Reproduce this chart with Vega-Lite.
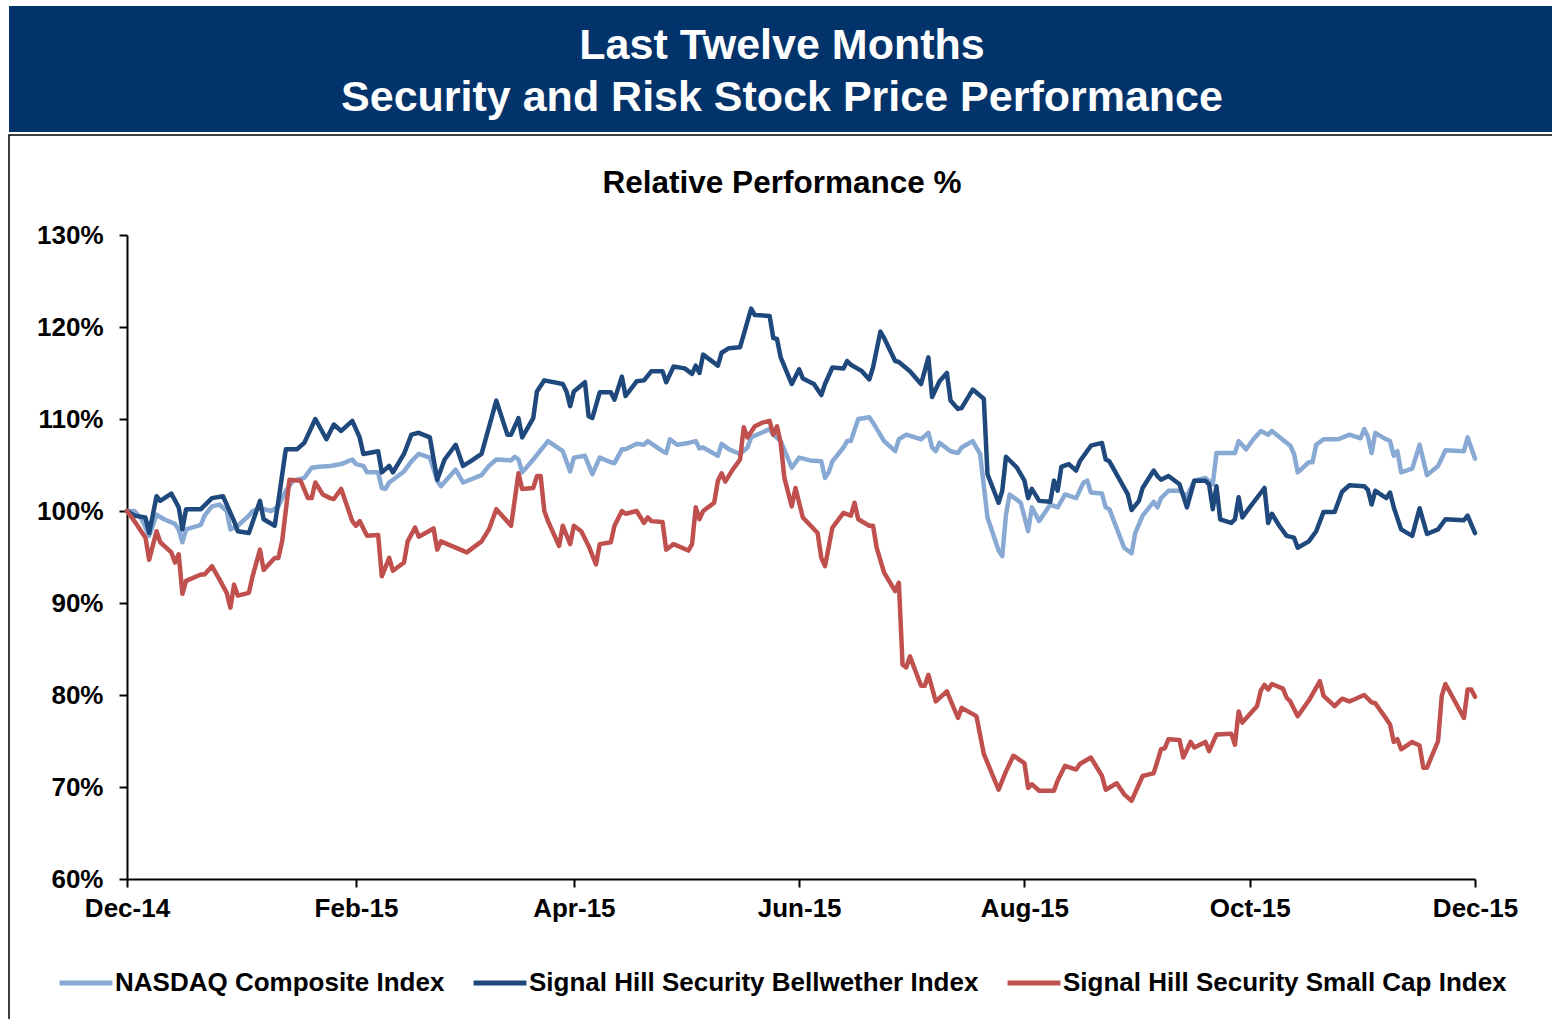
{
  "$schema": "https://vega.github.io/schema/vega-lite/v6.json",
  "padding": {"left": 8, "top": 6, "right": 0, "bottom": 0},
  "spacing": 2,
  "config": {"view": {"stroke": null}, "font": "Liberation Sans"},
  "vconcat": [
    {
      "width": 1546,
      "height": 126,
      "view": {"fill": "#02336A", "stroke": null},
      "data": {"values": [
        {"line": 1, "text": "Last Twelve Months"},
        {"line": 2, "text": "Security and Risk Stock Price Performance"}
      ]},
      "mark": {"type": "text", "font": "Liberation Sans", "fontSize": 43, "fontWeight": "bold", "color": "white", "baseline": "middle", "align": "center"},
      "encoding": {
        "y": {"field": "line", "type": "ordinal", "axis": null, "scale": {"type": "point", "range": [40, 92], "padding": 0}},
        "text": {"field": "text"}
      }
    },
    {
      "width": 1546,
      "height": 890,
      "view": {"stroke": "black", "strokeWidth": 1.5, "fill": "white"},
      "title": {"text": "Relative Performance %", "font": "Liberation Sans", "fontSize": 31.5, "fontWeight": "bold", "color": "black", "anchor": "middle", "offset": -64},
      "data": {
        "format": {"parse": {"date": "date:'%Y-%m-%d'"}},
        "values": [
{"series":"NASDAQ Composite Index","date":"2014-12-01","value":100},
{"series":"NASDAQ Composite Index","date":"2014-12-03","value":100},
{"series":"NASDAQ Composite Index","date":"2014-12-05","value":99.1},
{"series":"NASDAQ Composite Index","date":"2014-12-07","value":97.3},
{"series":"NASDAQ Composite Index","date":"2014-12-09","value":99.6},
{"series":"NASDAQ Composite Index","date":"2014-12-11","value":99.1},
{"series":"NASDAQ Composite Index","date":"2014-12-14","value":98.6},
{"series":"NASDAQ Composite Index","date":"2014-12-15","value":98.0},
{"series":"NASDAQ Composite Index","date":"2014-12-16","value":96.6},
{"series":"NASDAQ Composite Index","date":"2014-12-17","value":98.0},
{"series":"NASDAQ Composite Index","date":"2014-12-21","value":98.5},
{"series":"NASDAQ Composite Index","date":"2014-12-22","value":99.5},
{"series":"NASDAQ Composite Index","date":"2014-12-24","value":100.5},
{"series":"NASDAQ Composite Index","date":"2014-12-26","value":100.7},
{"series":"NASDAQ Composite Index","date":"2014-12-28","value":100.0},
{"series":"NASDAQ Composite Index","date":"2014-12-29","value":98.0},
{"series":"NASDAQ Composite Index","date":"2014-12-31","value":98.4},
{"series":"NASDAQ Composite Index","date":"2015-01-03","value":99.5},
{"series":"NASDAQ Composite Index","date":"2015-01-04","value":100.0},
{"series":"NASDAQ Composite Index","date":"2015-01-06","value":100.3},
{"series":"NASDAQ Composite Index","date":"2015-01-09","value":100.0},
{"series":"NASDAQ Composite Index","date":"2015-01-11","value":100.5},
{"series":"NASDAQ Composite Index","date":"2015-01-13","value":102.2},
{"series":"NASDAQ Composite Index","date":"2015-01-15","value":103.3},
{"series":"NASDAQ Composite Index","date":"2015-01-18","value":103.6},
{"series":"NASDAQ Composite Index","date":"2015-01-20","value":104.7},
{"series":"NASDAQ Composite Index","date":"2015-01-22","value":104.8},
{"series":"NASDAQ Composite Index","date":"2015-01-25","value":104.9},
{"series":"NASDAQ Composite Index","date":"2015-01-28","value":105.1},
{"series":"NASDAQ Composite Index","date":"2015-01-31","value":105.6},
{"series":"NASDAQ Composite Index","date":"2015-02-01","value":105.1},
{"series":"NASDAQ Composite Index","date":"2015-02-03","value":104.9},
{"series":"NASDAQ Composite Index","date":"2015-02-04","value":104.2},
{"series":"NASDAQ Composite Index","date":"2015-02-07","value":104.2},
{"series":"NASDAQ Composite Index","date":"2015-02-08","value":102.5},
{"series":"NASDAQ Composite Index","date":"2015-02-09","value":102.4},
{"series":"NASDAQ Composite Index","date":"2015-02-10","value":103.1},
{"series":"NASDAQ Composite Index","date":"2015-02-14","value":104.3},
{"series":"NASDAQ Composite Index","date":"2015-02-16","value":105.4},
{"series":"NASDAQ Composite Index","date":"2015-02-18","value":106.2},
{"series":"NASDAQ Composite Index","date":"2015-02-21","value":105.8},
{"series":"NASDAQ Composite Index","date":"2015-02-23","value":103.3},
{"series":"NASDAQ Composite Index","date":"2015-02-24","value":102.7},
{"series":"NASDAQ Composite Index","date":"2015-02-28","value":104.5},
{"series":"NASDAQ Composite Index","date":"2015-03-02","value":103.1},
{"series":"NASDAQ Composite Index","date":"2015-03-07","value":103.9},
{"series":"NASDAQ Composite Index","date":"2015-03-09","value":104.9},
{"series":"NASDAQ Composite Index","date":"2015-03-11","value":105.6},
{"series":"NASDAQ Composite Index","date":"2015-03-15","value":105.5},
{"series":"NASDAQ Composite Index","date":"2015-03-16","value":105.9},
{"series":"NASDAQ Composite Index","date":"2015-03-17","value":105.6},
{"series":"NASDAQ Composite Index","date":"2015-03-18","value":104.2},
{"series":"NASDAQ Composite Index","date":"2015-03-21","value":105.6},
{"series":"NASDAQ Composite Index","date":"2015-03-25","value":107.6},
{"series":"NASDAQ Composite Index","date":"2015-03-29","value":106.5},
{"series":"NASDAQ Composite Index","date":"2015-03-31","value":104.3},
{"series":"NASDAQ Composite Index","date":"2015-04-01","value":105.8},
{"series":"NASDAQ Composite Index","date":"2015-04-04","value":106.0},
{"series":"NASDAQ Composite Index","date":"2015-04-06","value":104.0},
{"series":"NASDAQ Composite Index","date":"2015-04-08","value":105.8},
{"series":"NASDAQ Composite Index","date":"2015-04-11","value":105.3},
{"series":"NASDAQ Composite Index","date":"2015-04-12","value":105.2},
{"series":"NASDAQ Composite Index","date":"2015-04-14","value":106.7},
{"series":"NASDAQ Composite Index","date":"2015-04-15","value":106.7},
{"series":"NASDAQ Composite Index","date":"2015-04-18","value":107.3},
{"series":"NASDAQ Composite Index","date":"2015-04-20","value":107.2},
{"series":"NASDAQ Composite Index","date":"2015-04-21","value":107.6},
{"series":"NASDAQ Composite Index","date":"2015-04-25","value":106.5},
{"series":"NASDAQ Composite Index","date":"2015-04-26","value":106.3},
{"series":"NASDAQ Composite Index","date":"2015-04-27","value":107.8},
{"series":"NASDAQ Composite Index","date":"2015-04-29","value":107.2},
{"series":"NASDAQ Composite Index","date":"2015-05-02","value":107.4},
{"series":"NASDAQ Composite Index","date":"2015-05-04","value":107.6},
{"series":"NASDAQ Composite Index","date":"2015-05-05","value":106.8},
{"series":"NASDAQ Composite Index","date":"2015-05-06","value":106.9},
{"series":"NASDAQ Composite Index","date":"2015-05-10","value":106.0},
{"series":"NASDAQ Composite Index","date":"2015-05-11","value":107.3},
{"series":"NASDAQ Composite Index","date":"2015-05-13","value":106.7},
{"series":"NASDAQ Composite Index","date":"2015-05-16","value":106.2},
{"series":"NASDAQ Composite Index","date":"2015-05-18","value":106.9},
{"series":"NASDAQ Composite Index","date":"2015-05-19","value":108.0},
{"series":"NASDAQ Composite Index","date":"2015-05-24","value":108.9},
{"series":"NASDAQ Composite Index","date":"2015-05-25","value":108.3},
{"series":"NASDAQ Composite Index","date":"2015-05-27","value":107.6},
{"series":"NASDAQ Composite Index","date":"2015-05-30","value":104.7},
{"series":"NASDAQ Composite Index","date":"2015-06-01","value":105.8},
{"series":"NASDAQ Composite Index","date":"2015-06-04","value":105.5},
{"series":"NASDAQ Composite Index","date":"2015-06-07","value":105.4},
{"series":"NASDAQ Composite Index","date":"2015-06-08","value":103.6},
{"series":"NASDAQ Composite Index","date":"2015-06-09","value":104.2},
{"series":"NASDAQ Composite Index","date":"2015-06-10","value":105.4},
{"series":"NASDAQ Composite Index","date":"2015-06-13","value":106.9},
{"series":"NASDAQ Composite Index","date":"2015-06-14","value":107.6},
{"series":"NASDAQ Composite Index","date":"2015-06-15","value":107.6},
{"series":"NASDAQ Composite Index","date":"2015-06-17","value":110.0},
{"series":"NASDAQ Composite Index","date":"2015-06-20","value":110.2},
{"series":"NASDAQ Composite Index","date":"2015-06-21","value":109.6},
{"series":"NASDAQ Composite Index","date":"2015-06-24","value":107.6},
{"series":"NASDAQ Composite Index","date":"2015-06-27","value":106.5},
{"series":"NASDAQ Composite Index","date":"2015-06-28","value":107.8},
{"series":"NASDAQ Composite Index","date":"2015-06-30","value":108.3},
{"series":"NASDAQ Composite Index","date":"2015-07-04","value":107.8},
{"series":"NASDAQ Composite Index","date":"2015-07-06","value":108.5},
{"series":"NASDAQ Composite Index","date":"2015-07-07","value":106.9},
{"series":"NASDAQ Composite Index","date":"2015-07-08","value":106.5},
{"series":"NASDAQ Composite Index","date":"2015-07-09","value":107.4},
{"series":"NASDAQ Composite Index","date":"2015-07-12","value":106.5},
{"series":"NASDAQ Composite Index","date":"2015-07-14","value":106.3},
{"series":"NASDAQ Composite Index","date":"2015-07-15","value":106.9},
{"series":"NASDAQ Composite Index","date":"2015-07-18","value":107.6},
{"series":"NASDAQ Composite Index","date":"2015-07-20","value":106.2},
{"series":"NASDAQ Composite Index","date":"2015-07-22","value":99.3},
{"series":"NASDAQ Composite Index","date":"2015-07-25","value":95.7},
{"series":"NASDAQ Composite Index","date":"2015-07-26","value":95.1},
{"series":"NASDAQ Composite Index","date":"2015-07-27","value":99.6},
{"series":"NASDAQ Composite Index","date":"2015-07-28","value":101.8},
{"series":"NASDAQ Composite Index","date":"2015-07-31","value":100.9},
{"series":"NASDAQ Composite Index","date":"2015-08-02","value":97.8},
{"series":"NASDAQ Composite Index","date":"2015-08-03","value":100.4},
{"series":"NASDAQ Composite Index","date":"2015-08-05","value":98.9},
{"series":"NASDAQ Composite Index","date":"2015-08-08","value":100.7},
{"series":"NASDAQ Composite Index","date":"2015-08-10","value":100.4},
{"series":"NASDAQ Composite Index","date":"2015-08-12","value":101.8},
{"series":"NASDAQ Composite Index","date":"2015-08-15","value":101.4},
{"series":"NASDAQ Composite Index","date":"2015-08-17","value":103.1},
{"series":"NASDAQ Composite Index","date":"2015-08-18","value":103.3},
{"series":"NASDAQ Composite Index","date":"2015-08-19","value":102.0},
{"series":"NASDAQ Composite Index","date":"2015-08-22","value":101.9},
{"series":"NASDAQ Composite Index","date":"2015-08-23","value":100.4},
{"series":"NASDAQ Composite Index","date":"2015-08-24","value":100.2},
{"series":"NASDAQ Composite Index","date":"2015-08-28","value":96.0},
{"series":"NASDAQ Composite Index","date":"2015-08-30","value":95.4},
{"series":"NASDAQ Composite Index","date":"2015-08-31","value":97.6},
{"series":"NASDAQ Composite Index","date":"2015-09-02","value":99.5},
{"series":"NASDAQ Composite Index","date":"2015-09-04","value":100.5},
{"series":"NASDAQ Composite Index","date":"2015-09-05","value":101.0},
{"series":"NASDAQ Composite Index","date":"2015-09-06","value":100.4},
{"series":"NASDAQ Composite Index","date":"2015-09-07","value":101.4},
{"series":"NASDAQ Composite Index","date":"2015-09-09","value":102.2},
{"series":"NASDAQ Composite Index","date":"2015-09-12","value":102.2},
{"series":"NASDAQ Composite Index","date":"2015-09-14","value":101.6},
{"series":"NASDAQ Composite Index","date":"2015-09-16","value":103.3},
{"series":"NASDAQ Composite Index","date":"2015-09-19","value":103.6},
{"series":"NASDAQ Composite Index","date":"2015-09-21","value":102.9},
{"series":"NASDAQ Composite Index","date":"2015-09-22","value":106.3},
{"series":"NASDAQ Composite Index","date":"2015-09-27","value":106.3},
{"series":"NASDAQ Composite Index","date":"2015-09-28","value":107.6},
{"series":"NASDAQ Composite Index","date":"2015-09-30","value":106.7},
{"series":"NASDAQ Composite Index","date":"2015-10-02","value":107.8},
{"series":"NASDAQ Composite Index","date":"2015-10-04","value":108.7},
{"series":"NASDAQ Composite Index","date":"2015-10-06","value":108.3},
{"series":"NASDAQ Composite Index","date":"2015-10-07","value":108.7},
{"series":"NASDAQ Composite Index","date":"2015-10-12","value":107.1},
{"series":"NASDAQ Composite Index","date":"2015-10-13","value":106.2},
{"series":"NASDAQ Composite Index","date":"2015-10-14","value":104.2},
{"series":"NASDAQ Composite Index","date":"2015-10-17","value":105.3},
{"series":"NASDAQ Composite Index","date":"2015-10-18","value":105.3},
{"series":"NASDAQ Composite Index","date":"2015-10-19","value":107.2},
{"series":"NASDAQ Composite Index","date":"2015-10-21","value":107.8},
{"series":"NASDAQ Composite Index","date":"2015-10-25","value":107.8},
{"series":"NASDAQ Composite Index","date":"2015-10-28","value":108.3},
{"series":"NASDAQ Composite Index","date":"2015-10-31","value":107.9},
{"series":"NASDAQ Composite Index","date":"2015-11-01","value":108.9},
{"series":"NASDAQ Composite Index","date":"2015-11-02","value":108.1},
{"series":"NASDAQ Composite Index","date":"2015-11-03","value":106.3},
{"series":"NASDAQ Composite Index","date":"2015-11-04","value":108.5},
{"series":"NASDAQ Composite Index","date":"2015-11-06","value":108.0},
{"series":"NASDAQ Composite Index","date":"2015-11-08","value":107.6},
{"series":"NASDAQ Composite Index","date":"2015-11-09","value":106.0},
{"series":"NASDAQ Composite Index","date":"2015-11-10","value":106.5},
{"series":"NASDAQ Composite Index","date":"2015-11-11","value":104.2},
{"series":"NASDAQ Composite Index","date":"2015-11-14","value":104.6},
{"series":"NASDAQ Composite Index","date":"2015-11-16","value":107.2},
{"series":"NASDAQ Composite Index","date":"2015-11-18","value":103.9},
{"series":"NASDAQ Composite Index","date":"2015-11-21","value":104.9},
{"series":"NASDAQ Composite Index","date":"2015-11-23","value":106.6},
{"series":"NASDAQ Composite Index","date":"2015-11-28","value":106.5},
{"series":"NASDAQ Composite Index","date":"2015-11-29","value":108.0},
{"series":"NASDAQ Composite Index","date":"2015-12-01","value":105.7},
{"series":"Signal Hill Security Bellwether Index","date":"2014-12-01","value":100},
{"series":"Signal Hill Security Bellwether Index","date":"2014-12-03","value":99.5},
{"series":"Signal Hill Security Bellwether Index","date":"2014-12-06","value":99.3},
{"series":"Signal Hill Security Bellwether Index","date":"2014-12-07","value":97.6},
{"series":"Signal Hill Security Bellwether Index","date":"2014-12-09","value":101.6},
{"series":"Signal Hill Security Bellwether Index","date":"2014-12-10","value":101.1},
{"series":"Signal Hill Security Bellwether Index","date":"2014-12-13","value":101.9},
{"series":"Signal Hill Security Bellwether Index","date":"2014-12-15","value":100.4},
{"series":"Signal Hill Security Bellwether Index","date":"2014-12-16","value":98.0},
{"series":"Signal Hill Security Bellwether Index","date":"2014-12-17","value":100.2},
{"series":"Signal Hill Security Bellwether Index","date":"2014-12-21","value":100.2},
{"series":"Signal Hill Security Bellwether Index","date":"2014-12-24","value":101.4},
{"series":"Signal Hill Security Bellwether Index","date":"2014-12-27","value":101.6},
{"series":"Signal Hill Security Bellwether Index","date":"2014-12-30","value":98.9},
{"series":"Signal Hill Security Bellwether Index","date":"2014-12-31","value":97.8},
{"series":"Signal Hill Security Bellwether Index","date":"2015-01-03","value":97.6},
{"series":"Signal Hill Security Bellwether Index","date":"2015-01-06","value":101.1},
{"series":"Signal Hill Security Bellwether Index","date":"2015-01-07","value":99.1},
{"series":"Signal Hill Security Bellwether Index","date":"2015-01-10","value":98.4},
{"series":"Signal Hill Security Bellwether Index","date":"2015-01-11","value":101.1},
{"series":"Signal Hill Security Bellwether Index","date":"2015-01-13","value":106.7},
{"series":"Signal Hill Security Bellwether Index","date":"2015-01-16","value":106.7},
{"series":"Signal Hill Security Bellwether Index","date":"2015-01-18","value":107.4},
{"series":"Signal Hill Security Bellwether Index","date":"2015-01-21","value":110.0},
{"series":"Signal Hill Security Bellwether Index","date":"2015-01-24","value":107.8},
{"series":"Signal Hill Security Bellwether Index","date":"2015-01-26","value":109.4},
{"series":"Signal Hill Security Bellwether Index","date":"2015-01-28","value":108.7},
{"series":"Signal Hill Security Bellwether Index","date":"2015-01-31","value":109.8},
{"series":"Signal Hill Security Bellwether Index","date":"2015-02-02","value":108.0},
{"series":"Signal Hill Security Bellwether Index","date":"2015-02-03","value":106.2},
{"series":"Signal Hill Security Bellwether Index","date":"2015-02-07","value":106.5},
{"series":"Signal Hill Security Bellwether Index","date":"2015-02-08","value":104.2},
{"series":"Signal Hill Security Bellwether Index","date":"2015-02-10","value":104.9},
{"series":"Signal Hill Security Bellwether Index","date":"2015-02-11","value":104.2},
{"series":"Signal Hill Security Bellwether Index","date":"2015-02-14","value":106.2},
{"series":"Signal Hill Security Bellwether Index","date":"2015-02-16","value":108.3},
{"series":"Signal Hill Security Bellwether Index","date":"2015-02-18","value":108.5},
{"series":"Signal Hill Security Bellwether Index","date":"2015-02-21","value":108.0},
{"series":"Signal Hill Security Bellwether Index","date":"2015-02-23","value":103.4},
{"series":"Signal Hill Security Bellwether Index","date":"2015-02-25","value":105.6},
{"series":"Signal Hill Security Bellwether Index","date":"2015-02-28","value":107.2},
{"series":"Signal Hill Security Bellwether Index","date":"2015-03-02","value":104.9},
{"series":"Signal Hill Security Bellwether Index","date":"2015-03-04","value":105.4},
{"series":"Signal Hill Security Bellwether Index","date":"2015-03-07","value":106.2},
{"series":"Signal Hill Security Bellwether Index","date":"2015-03-09","value":109.1},
{"series":"Signal Hill Security Bellwether Index","date":"2015-03-11","value":112.0},
{"series":"Signal Hill Security Bellwether Index","date":"2015-03-14","value":108.3},
{"series":"Signal Hill Security Bellwether Index","date":"2015-03-15","value":108.3},
{"series":"Signal Hill Security Bellwether Index","date":"2015-03-17","value":110.1},
{"series":"Signal Hill Security Bellwether Index","date":"2015-03-18","value":108.0},
{"series":"Signal Hill Security Bellwether Index","date":"2015-03-21","value":110.1},
{"series":"Signal Hill Security Bellwether Index","date":"2015-03-22","value":113.0},
{"series":"Signal Hill Security Bellwether Index","date":"2015-03-24","value":114.2},
{"series":"Signal Hill Security Bellwether Index","date":"2015-03-29","value":113.8},
{"series":"Signal Hill Security Bellwether Index","date":"2015-03-30","value":113.0},
{"series":"Signal Hill Security Bellwether Index","date":"2015-03-31","value":111.4},
{"series":"Signal Hill Security Bellwether Index","date":"2015-04-01","value":113.0},
{"series":"Signal Hill Security Bellwether Index","date":"2015-04-04","value":114.0},
{"series":"Signal Hill Security Bellwether Index","date":"2015-04-05","value":110.3},
{"series":"Signal Hill Security Bellwether Index","date":"2015-04-06","value":110.1},
{"series":"Signal Hill Security Bellwether Index","date":"2015-04-08","value":112.9},
{"series":"Signal Hill Security Bellwether Index","date":"2015-04-11","value":112.9},
{"series":"Signal Hill Security Bellwether Index","date":"2015-04-12","value":112.1},
{"series":"Signal Hill Security Bellwether Index","date":"2015-04-14","value":114.6},
{"series":"Signal Hill Security Bellwether Index","date":"2015-04-15","value":112.5},
{"series":"Signal Hill Security Bellwether Index","date":"2015-04-18","value":114.1},
{"series":"Signal Hill Security Bellwether Index","date":"2015-04-20","value":114.2},
{"series":"Signal Hill Security Bellwether Index","date":"2015-04-22","value":115.2},
{"series":"Signal Hill Security Bellwether Index","date":"2015-04-25","value":115.2},
{"series":"Signal Hill Security Bellwether Index","date":"2015-04-26","value":114.0},
{"series":"Signal Hill Security Bellwether Index","date":"2015-04-28","value":115.7},
{"series":"Signal Hill Security Bellwether Index","date":"2015-05-01","value":115.5},
{"series":"Signal Hill Security Bellwether Index","date":"2015-05-03","value":114.9},
{"series":"Signal Hill Security Bellwether Index","date":"2015-05-04","value":115.8},
{"series":"Signal Hill Security Bellwether Index","date":"2015-05-05","value":115.0},
{"series":"Signal Hill Security Bellwether Index","date":"2015-05-06","value":117.0},
{"series":"Signal Hill Security Bellwether Index","date":"2015-05-10","value":115.8},
{"series":"Signal Hill Security Bellwether Index","date":"2015-05-11","value":117.2},
{"series":"Signal Hill Security Bellwether Index","date":"2015-05-13","value":117.7},
{"series":"Signal Hill Security Bellwether Index","date":"2015-05-16","value":117.8},
{"series":"Signal Hill Security Bellwether Index","date":"2015-05-17","value":119.2},
{"series":"Signal Hill Security Bellwether Index","date":"2015-05-19","value":122.0},
{"series":"Signal Hill Security Bellwether Index","date":"2015-05-20","value":121.3},
{"series":"Signal Hill Security Bellwether Index","date":"2015-05-24","value":121.2},
{"series":"Signal Hill Security Bellwether Index","date":"2015-05-25","value":118.8},
{"series":"Signal Hill Security Bellwether Index","date":"2015-05-26","value":118.7},
{"series":"Signal Hill Security Bellwether Index","date":"2015-05-27","value":116.7},
{"series":"Signal Hill Security Bellwether Index","date":"2015-05-30","value":113.8},
{"series":"Signal Hill Security Bellwether Index","date":"2015-06-01","value":115.4},
{"series":"Signal Hill Security Bellwether Index","date":"2015-06-02","value":114.4},
{"series":"Signal Hill Security Bellwether Index","date":"2015-06-05","value":113.8},
{"series":"Signal Hill Security Bellwether Index","date":"2015-06-07","value":112.6},
{"series":"Signal Hill Security Bellwether Index","date":"2015-06-08","value":113.8},
{"series":"Signal Hill Security Bellwether Index","date":"2015-06-10","value":115.6},
{"series":"Signal Hill Security Bellwether Index","date":"2015-06-13","value":115.5},
{"series":"Signal Hill Security Bellwether Index","date":"2015-06-14","value":116.3},
{"series":"Signal Hill Security Bellwether Index","date":"2015-06-15","value":115.9},
{"series":"Signal Hill Security Bellwether Index","date":"2015-06-18","value":115.2},
{"series":"Signal Hill Security Bellwether Index","date":"2015-06-20","value":114.3},
{"series":"Signal Hill Security Bellwether Index","date":"2015-06-21","value":115.6},
{"series":"Signal Hill Security Bellwether Index","date":"2015-06-23","value":119.5},
{"series":"Signal Hill Security Bellwether Index","date":"2015-06-24","value":118.8},
{"series":"Signal Hill Security Bellwether Index","date":"2015-06-27","value":116.3},
{"series":"Signal Hill Security Bellwether Index","date":"2015-06-28","value":116.2},
{"series":"Signal Hill Security Bellwether Index","date":"2015-07-01","value":115.2},
{"series":"Signal Hill Security Bellwether Index","date":"2015-07-04","value":113.8},
{"series":"Signal Hill Security Bellwether Index","date":"2015-07-06","value":116.7},
{"series":"Signal Hill Security Bellwether Index","date":"2015-07-07","value":112.4},
{"series":"Signal Hill Security Bellwether Index","date":"2015-07-09","value":114.1},
{"series":"Signal Hill Security Bellwether Index","date":"2015-07-11","value":115.0},
{"series":"Signal Hill Security Bellwether Index","date":"2015-07-12","value":112.0},
{"series":"Signal Hill Security Bellwether Index","date":"2015-07-14","value":111.1},
{"series":"Signal Hill Security Bellwether Index","date":"2015-07-15","value":111.2},
{"series":"Signal Hill Security Bellwether Index","date":"2015-07-18","value":113.2},
{"series":"Signal Hill Security Bellwether Index","date":"2015-07-21","value":112.2},
{"series":"Signal Hill Security Bellwether Index","date":"2015-07-22","value":104.0},
{"series":"Signal Hill Security Bellwether Index","date":"2015-07-25","value":100.9},
{"series":"Signal Hill Security Bellwether Index","date":"2015-07-26","value":102.2},
{"series":"Signal Hill Security Bellwether Index","date":"2015-07-27","value":105.9},
{"series":"Signal Hill Security Bellwether Index","date":"2015-07-30","value":104.7},
{"series":"Signal Hill Security Bellwether Index","date":"2015-08-01","value":103.3},
{"series":"Signal Hill Security Bellwether Index","date":"2015-08-02","value":101.4},
{"series":"Signal Hill Security Bellwether Index","date":"2015-08-03","value":102.4},
{"series":"Signal Hill Security Bellwether Index","date":"2015-08-05","value":101.1},
{"series":"Signal Hill Security Bellwether Index","date":"2015-08-08","value":101.0},
{"series":"Signal Hill Security Bellwether Index","date":"2015-08-09","value":103.3},
{"series":"Signal Hill Security Bellwether Index","date":"2015-08-10","value":102.2},
{"series":"Signal Hill Security Bellwether Index","date":"2015-08-11","value":104.8},
{"series":"Signal Hill Security Bellwether Index","date":"2015-08-13","value":105.1},
{"series":"Signal Hill Security Bellwether Index","date":"2015-08-15","value":104.4},
{"series":"Signal Hill Security Bellwether Index","date":"2015-08-16","value":105.4},
{"series":"Signal Hill Security Bellwether Index","date":"2015-08-19","value":107.1},
{"series":"Signal Hill Security Bellwether Index","date":"2015-08-22","value":107.4},
{"series":"Signal Hill Security Bellwether Index","date":"2015-08-23","value":105.6},
{"series":"Signal Hill Security Bellwether Index","date":"2015-08-24","value":105.4},
{"series":"Signal Hill Security Bellwether Index","date":"2015-08-29","value":101.8},
{"series":"Signal Hill Security Bellwether Index","date":"2015-08-30","value":100.1},
{"series":"Signal Hill Security Bellwether Index","date":"2015-09-01","value":101.1},
{"series":"Signal Hill Security Bellwether Index","date":"2015-09-02","value":102.5},
{"series":"Signal Hill Security Bellwether Index","date":"2015-09-05","value":104.4},
{"series":"Signal Hill Security Bellwether Index","date":"2015-09-06","value":103.8},
{"series":"Signal Hill Security Bellwether Index","date":"2015-09-07","value":103.4},
{"series":"Signal Hill Security Bellwether Index","date":"2015-09-09","value":103.8},
{"series":"Signal Hill Security Bellwether Index","date":"2015-09-12","value":102.9},
{"series":"Signal Hill Security Bellwether Index","date":"2015-09-14","value":100.4},
{"series":"Signal Hill Security Bellwether Index","date":"2015-09-16","value":103.3},
{"series":"Signal Hill Security Bellwether Index","date":"2015-09-19","value":103.3},
{"series":"Signal Hill Security Bellwether Index","date":"2015-09-20","value":102.9},
{"series":"Signal Hill Security Bellwether Index","date":"2015-09-21","value":100.2},
{"series":"Signal Hill Security Bellwether Index","date":"2015-09-22","value":102.7},
{"series":"Signal Hill Security Bellwether Index","date":"2015-09-23","value":99.1},
{"series":"Signal Hill Security Bellwether Index","date":"2015-09-26","value":98.7},
{"series":"Signal Hill Security Bellwether Index","date":"2015-09-27","value":99.1},
{"series":"Signal Hill Security Bellwether Index","date":"2015-09-28","value":101.5},
{"series":"Signal Hill Security Bellwether Index","date":"2015-09-29","value":99.3},
{"series":"Signal Hill Security Bellwether Index","date":"2015-10-01","value":100.4},
{"series":"Signal Hill Security Bellwether Index","date":"2015-10-05","value":102.5},
{"series":"Signal Hill Security Bellwether Index","date":"2015-10-06","value":98.7},
{"series":"Signal Hill Security Bellwether Index","date":"2015-10-07","value":99.7},
{"series":"Signal Hill Security Bellwether Index","date":"2015-10-09","value":98.4},
{"series":"Signal Hill Security Bellwether Index","date":"2015-10-11","value":97.3},
{"series":"Signal Hill Security Bellwether Index","date":"2015-10-13","value":97.1},
{"series":"Signal Hill Security Bellwether Index","date":"2015-10-14","value":96.0},
{"series":"Signal Hill Security Bellwether Index","date":"2015-10-17","value":96.7},
{"series":"Signal Hill Security Bellwether Index","date":"2015-10-19","value":97.8},
{"series":"Signal Hill Security Bellwether Index","date":"2015-10-21","value":99.9},
{"series":"Signal Hill Security Bellwether Index","date":"2015-10-24","value":99.9},
{"series":"Signal Hill Security Bellwether Index","date":"2015-10-26","value":102.1},
{"series":"Signal Hill Security Bellwether Index","date":"2015-10-28","value":102.8},
{"series":"Signal Hill Security Bellwether Index","date":"2015-11-01","value":102.7},
{"series":"Signal Hill Security Bellwether Index","date":"2015-11-02","value":102.3},
{"series":"Signal Hill Security Bellwether Index","date":"2015-11-03","value":100.7},
{"series":"Signal Hill Security Bellwether Index","date":"2015-11-04","value":102.2},
{"series":"Signal Hill Security Bellwether Index","date":"2015-11-07","value":101.4},
{"series":"Signal Hill Security Bellwether Index","date":"2015-11-08","value":102.0},
{"series":"Signal Hill Security Bellwether Index","date":"2015-11-09","value":100.4},
{"series":"Signal Hill Security Bellwether Index","date":"2015-11-11","value":98.0},
{"series":"Signal Hill Security Bellwether Index","date":"2015-11-14","value":97.3},
{"series":"Signal Hill Security Bellwether Index","date":"2015-11-16","value":100.3},
{"series":"Signal Hill Security Bellwether Index","date":"2015-11-18","value":97.5},
{"series":"Signal Hill Security Bellwether Index","date":"2015-11-21","value":98.0},
{"series":"Signal Hill Security Bellwether Index","date":"2015-11-23","value":99.1},
{"series":"Signal Hill Security Bellwether Index","date":"2015-11-28","value":99.0},
{"series":"Signal Hill Security Bellwether Index","date":"2015-11-29","value":99.5},
{"series":"Signal Hill Security Bellwether Index","date":"2015-12-01","value":97.6},
{"series":"Signal Hill Security Small Cap Index","date":"2014-12-01","value":100},
{"series":"Signal Hill Security Small Cap Index","date":"2014-12-03","value":98.9},
{"series":"Signal Hill Security Small Cap Index","date":"2014-12-06","value":97.1},
{"series":"Signal Hill Security Small Cap Index","date":"2014-12-07","value":94.7},
{"series":"Signal Hill Security Small Cap Index","date":"2014-12-09","value":97.8},
{"series":"Signal Hill Security Small Cap Index","date":"2014-12-10","value":96.6},
{"series":"Signal Hill Security Small Cap Index","date":"2014-12-13","value":95.5},
{"series":"Signal Hill Security Small Cap Index","date":"2014-12-14","value":94.4},
{"series":"Signal Hill Security Small Cap Index","date":"2014-12-15","value":95.3},
{"series":"Signal Hill Security Small Cap Index","date":"2014-12-16","value":91.0},
{"series":"Signal Hill Security Small Cap Index","date":"2014-12-17","value":92.4},
{"series":"Signal Hill Security Small Cap Index","date":"2014-12-21","value":93.1},
{"series":"Signal Hill Security Small Cap Index","date":"2014-12-22","value":93.1},
{"series":"Signal Hill Security Small Cap Index","date":"2014-12-24","value":94.0},
{"series":"Signal Hill Security Small Cap Index","date":"2014-12-26","value":92.6},
{"series":"Signal Hill Security Small Cap Index","date":"2014-12-28","value":91.1},
{"series":"Signal Hill Security Small Cap Index","date":"2014-12-29","value":89.5},
{"series":"Signal Hill Security Small Cap Index","date":"2014-12-30","value":92.0},
{"series":"Signal Hill Security Small Cap Index","date":"2014-12-31","value":90.8},
{"series":"Signal Hill Security Small Cap Index","date":"2015-01-03","value":91.1},
{"series":"Signal Hill Security Small Cap Index","date":"2015-01-04","value":92.9},
{"series":"Signal Hill Security Small Cap Index","date":"2015-01-06","value":95.8},
{"series":"Signal Hill Security Small Cap Index","date":"2015-01-07","value":93.6},
{"series":"Signal Hill Security Small Cap Index","date":"2015-01-10","value":94.9},
{"series":"Signal Hill Security Small Cap Index","date":"2015-01-11","value":94.9},
{"series":"Signal Hill Security Small Cap Index","date":"2015-01-12","value":96.7},
{"series":"Signal Hill Security Small Cap Index","date":"2015-01-14","value":103.4},
{"series":"Signal Hill Security Small Cap Index","date":"2015-01-17","value":103.3},
{"series":"Signal Hill Security Small Cap Index","date":"2015-01-19","value":101.4},
{"series":"Signal Hill Security Small Cap Index","date":"2015-01-20","value":101.4},
{"series":"Signal Hill Security Small Cap Index","date":"2015-01-21","value":103.1},
{"series":"Signal Hill Security Small Cap Index","date":"2015-01-23","value":101.8},
{"series":"Signal Hill Security Small Cap Index","date":"2015-01-25","value":101.4},
{"series":"Signal Hill Security Small Cap Index","date":"2015-01-26","value":101.3},
{"series":"Signal Hill Security Small Cap Index","date":"2015-01-28","value":102.4},
{"series":"Signal Hill Security Small Cap Index","date":"2015-01-31","value":98.9},
{"series":"Signal Hill Security Small Cap Index","date":"2015-02-01","value":98.4},
{"series":"Signal Hill Security Small Cap Index","date":"2015-02-02","value":98.9},
{"series":"Signal Hill Security Small Cap Index","date":"2015-02-04","value":97.3},
{"series":"Signal Hill Security Small Cap Index","date":"2015-02-07","value":97.4},
{"series":"Signal Hill Security Small Cap Index","date":"2015-02-08","value":92.9},
{"series":"Signal Hill Security Small Cap Index","date":"2015-02-10","value":94.9},
{"series":"Signal Hill Security Small Cap Index","date":"2015-02-11","value":93.5},
{"series":"Signal Hill Security Small Cap Index","date":"2015-02-14","value":94.4},
{"series":"Signal Hill Security Small Cap Index","date":"2015-02-15","value":96.7},
{"series":"Signal Hill Security Small Cap Index","date":"2015-02-17","value":98.2},
{"series":"Signal Hill Security Small Cap Index","date":"2015-02-18","value":97.2},
{"series":"Signal Hill Security Small Cap Index","date":"2015-02-22","value":98.1},
{"series":"Signal Hill Security Small Cap Index","date":"2015-02-23","value":95.8},
{"series":"Signal Hill Security Small Cap Index","date":"2015-02-24","value":96.7},
{"series":"Signal Hill Security Small Cap Index","date":"2015-03-03","value":95.5},
{"series":"Signal Hill Security Small Cap Index","date":"2015-03-07","value":96.7},
{"series":"Signal Hill Security Small Cap Index","date":"2015-03-09","value":98.0},
{"series":"Signal Hill Security Small Cap Index","date":"2015-03-11","value":100.2},
{"series":"Signal Hill Security Small Cap Index","date":"2015-03-15","value":98.4},
{"series":"Signal Hill Security Small Cap Index","date":"2015-03-17","value":104.1},
{"series":"Signal Hill Security Small Cap Index","date":"2015-03-18","value":102.4},
{"series":"Signal Hill Security Small Cap Index","date":"2015-03-21","value":102.5},
{"series":"Signal Hill Security Small Cap Index","date":"2015-03-22","value":103.8},
{"series":"Signal Hill Security Small Cap Index","date":"2015-03-23","value":103.8},
{"series":"Signal Hill Security Small Cap Index","date":"2015-03-24","value":100.0},
{"series":"Signal Hill Security Small Cap Index","date":"2015-03-25","value":98.9},
{"series":"Signal Hill Security Small Cap Index","date":"2015-03-28","value":96.2},
{"series":"Signal Hill Security Small Cap Index","date":"2015-03-29","value":98.4},
{"series":"Signal Hill Security Small Cap Index","date":"2015-03-31","value":96.4},
{"series":"Signal Hill Security Small Cap Index","date":"2015-04-01","value":98.4},
{"series":"Signal Hill Security Small Cap Index","date":"2015-04-03","value":97.8},
{"series":"Signal Hill Security Small Cap Index","date":"2015-04-05","value":96.2},
{"series":"Signal Hill Security Small Cap Index","date":"2015-04-07","value":94.2},
{"series":"Signal Hill Security Small Cap Index","date":"2015-04-08","value":96.4},
{"series":"Signal Hill Security Small Cap Index","date":"2015-04-11","value":96.6},
{"series":"Signal Hill Security Small Cap Index","date":"2015-04-12","value":98.4},
{"series":"Signal Hill Security Small Cap Index","date":"2015-04-14","value":100.0},
{"series":"Signal Hill Security Small Cap Index","date":"2015-04-15","value":99.7},
{"series":"Signal Hill Security Small Cap Index","date":"2015-04-18","value":100.0},
{"series":"Signal Hill Security Small Cap Index","date":"2015-04-20","value":98.7},
{"series":"Signal Hill Security Small Cap Index","date":"2015-04-21","value":99.3},
{"series":"Signal Hill Security Small Cap Index","date":"2015-04-22","value":98.9},
{"series":"Signal Hill Security Small Cap Index","date":"2015-04-25","value":98.8},
{"series":"Signal Hill Security Small Cap Index","date":"2015-04-26","value":95.8},
{"series":"Signal Hill Security Small Cap Index","date":"2015-04-28","value":96.4},
{"series":"Signal Hill Security Small Cap Index","date":"2015-05-02","value":95.7},
{"series":"Signal Hill Security Small Cap Index","date":"2015-05-03","value":96.4},
{"series":"Signal Hill Security Small Cap Index","date":"2015-05-04","value":100.4},
{"series":"Signal Hill Security Small Cap Index","date":"2015-05-05","value":99.1},
{"series":"Signal Hill Security Small Cap Index","date":"2015-05-06","value":100.0},
{"series":"Signal Hill Security Small Cap Index","date":"2015-05-09","value":100.9},
{"series":"Signal Hill Security Small Cap Index","date":"2015-05-10","value":103.3},
{"series":"Signal Hill Security Small Cap Index","date":"2015-05-11","value":104.1},
{"series":"Signal Hill Security Small Cap Index","date":"2015-05-12","value":103.2},
{"series":"Signal Hill Security Small Cap Index","date":"2015-05-14","value":104.5},
{"series":"Signal Hill Security Small Cap Index","date":"2015-05-16","value":105.6},
{"series":"Signal Hill Security Small Cap Index","date":"2015-05-17","value":109.1},
{"series":"Signal Hill Security Small Cap Index","date":"2015-05-18","value":108.0},
{"series":"Signal Hill Security Small Cap Index","date":"2015-05-20","value":109.2},
{"series":"Signal Hill Security Small Cap Index","date":"2015-05-22","value":109.6},
{"series":"Signal Hill Security Small Cap Index","date":"2015-05-24","value":109.8},
{"series":"Signal Hill Security Small Cap Index","date":"2015-05-25","value":108.3},
{"series":"Signal Hill Security Small Cap Index","date":"2015-05-26","value":109.2},
{"series":"Signal Hill Security Small Cap Index","date":"2015-05-27","value":107.4},
{"series":"Signal Hill Security Small Cap Index","date":"2015-05-28","value":103.6},
{"series":"Signal Hill Security Small Cap Index","date":"2015-05-30","value":100.5},
{"series":"Signal Hill Security Small Cap Index","date":"2015-05-31","value":102.5},
{"series":"Signal Hill Security Small Cap Index","date":"2015-06-02","value":99.3},
{"series":"Signal Hill Security Small Cap Index","date":"2015-06-06","value":97.6},
{"series":"Signal Hill Security Small Cap Index","date":"2015-06-07","value":94.9},
{"series":"Signal Hill Security Small Cap Index","date":"2015-06-08","value":94.0},
{"series":"Signal Hill Security Small Cap Index","date":"2015-06-10","value":98.2},
{"series":"Signal Hill Security Small Cap Index","date":"2015-06-13","value":99.8},
{"series":"Signal Hill Security Small Cap Index","date":"2015-06-15","value":99.5},
{"series":"Signal Hill Security Small Cap Index","date":"2015-06-16","value":100.9},
{"series":"Signal Hill Security Small Cap Index","date":"2015-06-17","value":99.1},
{"series":"Signal Hill Security Small Cap Index","date":"2015-06-20","value":98.4},
{"series":"Signal Hill Security Small Cap Index","date":"2015-06-21","value":98.4},
{"series":"Signal Hill Security Small Cap Index","date":"2015-06-22","value":96.0},
{"series":"Signal Hill Security Small Cap Index","date":"2015-06-24","value":93.3},
{"series":"Signal Hill Security Small Cap Index","date":"2015-06-27","value":91.3},
{"series":"Signal Hill Security Small Cap Index","date":"2015-06-28","value":92.2},
{"series":"Signal Hill Security Small Cap Index","date":"2015-06-29","value":83.3},
{"series":"Signal Hill Security Small Cap Index","date":"2015-06-30","value":83.0},
{"series":"Signal Hill Security Small Cap Index","date":"2015-07-01","value":84.2},
{"series":"Signal Hill Security Small Cap Index","date":"2015-07-04","value":81.0},
{"series":"Signal Hill Security Small Cap Index","date":"2015-07-05","value":81.0},
{"series":"Signal Hill Security Small Cap Index","date":"2015-07-06","value":82.2},
{"series":"Signal Hill Security Small Cap Index","date":"2015-07-08","value":79.3},
{"series":"Signal Hill Security Small Cap Index","date":"2015-07-11","value":80.4},
{"series":"Signal Hill Security Small Cap Index","date":"2015-07-14","value":77.5},
{"series":"Signal Hill Security Small Cap Index","date":"2015-07-15","value":78.6},
{"series":"Signal Hill Security Small Cap Index","date":"2015-07-19","value":77.7},
{"series":"Signal Hill Security Small Cap Index","date":"2015-07-21","value":73.6},
{"series":"Signal Hill Security Small Cap Index","date":"2015-07-25","value":69.7},
{"series":"Signal Hill Security Small Cap Index","date":"2015-07-27","value":71.7},
{"series":"Signal Hill Security Small Cap Index","date":"2015-07-29","value":73.4},
{"series":"Signal Hill Security Small Cap Index","date":"2015-08-01","value":72.6},
{"series":"Signal Hill Security Small Cap Index","date":"2015-08-02","value":69.9},
{"series":"Signal Hill Security Small Cap Index","date":"2015-08-03","value":70.3},
{"series":"Signal Hill Security Small Cap Index","date":"2015-08-05","value":69.6},
{"series":"Signal Hill Security Small Cap Index","date":"2015-08-09","value":69.6},
{"series":"Signal Hill Security Small Cap Index","date":"2015-08-10","value":70.7},
{"series":"Signal Hill Security Small Cap Index","date":"2015-08-12","value":72.3},
{"series":"Signal Hill Security Small Cap Index","date":"2015-08-15","value":71.9},
{"series":"Signal Hill Security Small Cap Index","date":"2015-08-16","value":72.5},
{"series":"Signal Hill Security Small Cap Index","date":"2015-08-19","value":73.2},
{"series":"Signal Hill Security Small Cap Index","date":"2015-08-22","value":71.2},
{"series":"Signal Hill Security Small Cap Index","date":"2015-08-23","value":69.7},
{"series":"Signal Hill Security Small Cap Index","date":"2015-08-26","value":70.4},
{"series":"Signal Hill Security Small Cap Index","date":"2015-08-28","value":69.2},
{"series":"Signal Hill Security Small Cap Index","date":"2015-08-30","value":68.5},
{"series":"Signal Hill Security Small Cap Index","date":"2015-08-31","value":69.4},
{"series":"Signal Hill Security Small Cap Index","date":"2015-09-02","value":71.2},
{"series":"Signal Hill Security Small Cap Index","date":"2015-09-04","value":71.4},
{"series":"Signal Hill Security Small Cap Index","date":"2015-09-05","value":71.5},
{"series":"Signal Hill Security Small Cap Index","date":"2015-09-07","value":74.1},
{"series":"Signal Hill Security Small Cap Index","date":"2015-09-08","value":74.2},
{"series":"Signal Hill Security Small Cap Index","date":"2015-09-09","value":75.2},
{"series":"Signal Hill Security Small Cap Index","date":"2015-09-12","value":75.1},
{"series":"Signal Hill Security Small Cap Index","date":"2015-09-13","value":73.2},
{"series":"Signal Hill Security Small Cap Index","date":"2015-09-15","value":74.9},
{"series":"Signal Hill Security Small Cap Index","date":"2015-09-16","value":74.3},
{"series":"Signal Hill Security Small Cap Index","date":"2015-09-19","value":74.9},
{"series":"Signal Hill Security Small Cap Index","date":"2015-09-20","value":73.9},
{"series":"Signal Hill Security Small Cap Index","date":"2015-09-22","value":75.7},
{"series":"Signal Hill Security Small Cap Index","date":"2015-09-26","value":75.8},
{"series":"Signal Hill Security Small Cap Index","date":"2015-09-27","value":74.6},
{"series":"Signal Hill Security Small Cap Index","date":"2015-09-28","value":78.2},
{"series":"Signal Hill Security Small Cap Index","date":"2015-09-29","value":77.0},
{"series":"Signal Hill Security Small Cap Index","date":"2015-10-03","value":78.8},
{"series":"Signal Hill Security Small Cap Index","date":"2015-10-04","value":80.5},
{"series":"Signal Hill Security Small Cap Index","date":"2015-10-05","value":81.1},
{"series":"Signal Hill Security Small Cap Index","date":"2015-10-06","value":80.6},
{"series":"Signal Hill Security Small Cap Index","date":"2015-10-07","value":81.2},
{"series":"Signal Hill Security Small Cap Index","date":"2015-10-10","value":80.7},
{"series":"Signal Hill Security Small Cap Index","date":"2015-10-11","value":79.7},
{"series":"Signal Hill Security Small Cap Index","date":"2015-10-12","value":79.3},
{"series":"Signal Hill Security Small Cap Index","date":"2015-10-14","value":77.7},
{"series":"Signal Hill Security Small Cap Index","date":"2015-10-17","value":79.4},
{"series":"Signal Hill Security Small Cap Index","date":"2015-10-18","value":80.1},
{"series":"Signal Hill Security Small Cap Index","date":"2015-10-20","value":81.5},
{"series":"Signal Hill Security Small Cap Index","date":"2015-10-21","value":79.9},
{"series":"Signal Hill Security Small Cap Index","date":"2015-10-24","value":78.8},
{"series":"Signal Hill Security Small Cap Index","date":"2015-10-26","value":79.6},
{"series":"Signal Hill Security Small Cap Index","date":"2015-10-28","value":79.3},
{"series":"Signal Hill Security Small Cap Index","date":"2015-11-01","value":80.0},
{"series":"Signal Hill Security Small Cap Index","date":"2015-11-03","value":79.2},
{"series":"Signal Hill Security Small Cap Index","date":"2015-11-04","value":79.1},
{"series":"Signal Hill Security Small Cap Index","date":"2015-11-07","value":77.4},
{"series":"Signal Hill Security Small Cap Index","date":"2015-11-08","value":76.8},
{"series":"Signal Hill Security Small Cap Index","date":"2015-11-09","value":74.9},
{"series":"Signal Hill Security Small Cap Index","date":"2015-11-10","value":75.2},
{"series":"Signal Hill Security Small Cap Index","date":"2015-11-11","value":74.1},
{"series":"Signal Hill Security Small Cap Index","date":"2015-11-14","value":74.9},
{"series":"Signal Hill Security Small Cap Index","date":"2015-11-16","value":74.5},
{"series":"Signal Hill Security Small Cap Index","date":"2015-11-17","value":72.1},
{"series":"Signal Hill Security Small Cap Index","date":"2015-11-18","value":72.1},
{"series":"Signal Hill Security Small Cap Index","date":"2015-11-21","value":75.0},
{"series":"Signal Hill Security Small Cap Index","date":"2015-11-22","value":79.9},
{"series":"Signal Hill Security Small Cap Index","date":"2015-11-23","value":81.2},
{"series":"Signal Hill Security Small Cap Index","date":"2015-11-28","value":77.5},
{"series":"Signal Hill Security Small Cap Index","date":"2015-11-29","value":80.6},
{"series":"Signal Hill Security Small Cap Index","date":"2015-11-30","value":80.6},
{"series":"Signal Hill Security Small Cap Index","date":"2015-12-01","value":79.8}
        ]
      },
      "mark": {"type": "line", "strokeWidth": 4.5, "strokeJoin": "round", "strokeCap": "round"},
      "encoding": {
        "x": {
          "field": "date", "type": "temporal",
          "scale": {"domain": [{"year": 2014, "month": 12, "date": 1}, {"year": 2015, "month": 12, "date": 1}], "range": [118, 1466], "nice": false},
          "axis": {
            "orient": "bottom", "offset": -146, "title": null, "grid": false,
            "values": [
              {"year": 2014, "month": 12, "date": 1},
              {"year": 2015, "month": 2, "date": 1},
              {"year": 2015, "month": 4, "date": 1},
              {"year": 2015, "month": 6, "date": 1},
              {"year": 2015, "month": 8, "date": 1},
              {"year": 2015, "month": 10, "date": 1},
              {"year": 2015, "month": 12, "date": 1}
            ],
            "format": "%b-%y", "labelFlush": false, "labelOverlap": false,
            "labelFont": "Liberation Sans", "labelFontSize": 26, "labelFontWeight": "bold", "labelColor": "black",
            "labelPadding": 8, "tickSize": 8, "tickWidth": 2, "tickColor": "black", "domainColor": "black", "domainWidth": 2
          }
        },
        "y": {
          "field": "value", "type": "quantitative",
          "scale": {"domain": [60, 130], "range": [744, 100], "nice": false, "zero": false},
          "axis": {
            "orient": "left", "offset": -118, "title": null, "grid": false,
            "values": [60, 70, 80, 90, 100, 110, 120, 130],
            "labelExpr": "datum.value + '%'",
            "labelFont": "Liberation Sans", "labelFontSize": 26, "labelFontWeight": "bold", "labelColor": "black",
            "labelPadding": 16, "tickSize": 8, "tickWidth": 2, "tickColor": "black", "domainColor": "black", "domainWidth": 2
          }
        },
        "color": {
          "field": "series", "type": "nominal",
          "scale": {
            "domain": ["NASDAQ Composite Index", "Signal Hill Security Bellwether Index", "Signal Hill Security Small Cap Index"],
            "range": ["#87A9D3", "#1F497D", "#C0504D"]
          },
          "legend": {
            "title": null, "orient": "none", "legendX": 48, "legendY": 948,
            "direction": "horizontal", "columns": 3, "columnPadding": 18,
            "symbolType": "stroke", "symbolSize": 2800, "symbolStrokeWidth": 5,
            "labelFont": "Liberation Sans", "labelFontSize": 26, "labelFontWeight": "bold", "labelColor": "black",
            "labelLimit": 0, "labelOffset": 0
          }
        }
      }
    }
  ]
}
